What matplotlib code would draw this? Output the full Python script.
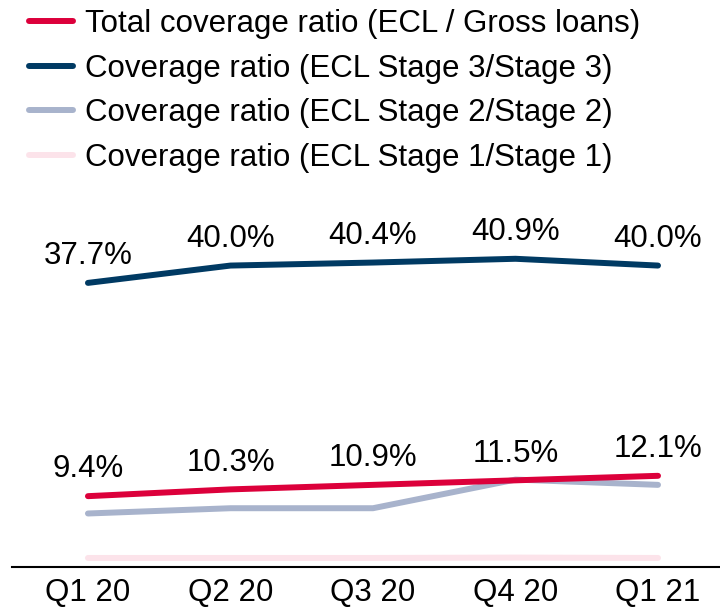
import numpy as np
import matplotlib
matplotlib.use("Agg")
import matplotlib.pyplot as plt

plt.rcParams['font.family'] = ['Liberation Sans', 'DejaVu Sans']

quarters = ['Q1 20', 'Q2 20', 'Q3 20', 'Q4 20', 'Q1 21']

# coverage ratios in %
total_cov = [9.4, 10.3, 10.9, 11.5, 12.1]
stage3_cov = [37.7, 40.0, 40.4, 40.9, 40.0]
stage2_cov = [7.1, 7.8, 7.8, 11.6, 10.9]   # not labelled in the source
stage1_cov = [1.2, 1.2, 1.2, 1.25, 1.2]     # not labelled in the source

labels = ['Total coverage ratio (ECL / Gross loans)',
          'Coverage ratio (ECL Stage 3/Stage 3)',
          'Coverage ratio (ECL Stage 2/Stage 2)',
          'Coverage ratio (ECL Stage 1/Stage 1)']
colors = ['#DC003B', '#003A63', '#A8B3CC', '#FCE3EA']

fs = 22.5
fig = plt.figure(figsize=(7.2, 6.09), dpi=100)
ax = fig.add_axes([12 / 720, 42 / 609, 1 - 12 / 720, 367 / 609])

x = np.arange(len(quarters))
series = [total_cov, stage3_cov, stage2_cov, stage1_cov]

# draw the faint ones first so red/navy sit on top
for vals, col, lab, z in zip(series, colors, labels, [4, 4, 3, 2]):
    ax.plot(x, vals, color=col, lw=4.3, solid_capstyle='round',
            solid_joinstyle='round', label=lab, zorder=z)

for vals in [total_cov, stage3_cov]:
    for xi, v in zip(x, vals):
        ax.annotate(f'{v:.1f}%', (xi, v), xytext=(0, 13.5), textcoords='offset points',
                    ha='center', va='baseline', fontsize=fs, color='black')

ax.set_xlim(-0.533, 4.435)
ax.set_ylim(0, 48.7)
ax.set_xticks(x)
ax.set_xticklabels(quarters, fontsize=fs)
ax.tick_params(axis='x', length=0, pad=8)
ax.set_yticks([])
for s in ['top', 'right', 'left']:
    ax.spines[s].set_visible(False)
ax.spines['bottom'].set_linewidth(1.5)
ax.patch.set_alpha(0)

handles, labs = ax.get_legend_handles_labels()
fig.legend(handles, labs, loc='upper left', bbox_to_anchor=(29 / 720, 1 - 9 / 609),
           frameon=False, fontsize=fs, handlelength=1.41, handletextpad=0.38,
           labelspacing=0.47, borderpad=0, borderaxespad=0)

fig.savefig('out.png', dpi=100)
